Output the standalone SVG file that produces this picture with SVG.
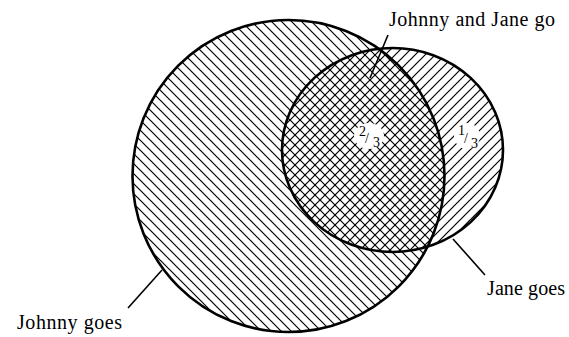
<svg xmlns="http://www.w3.org/2000/svg" width="569" height="337" viewBox="0 0 569 337">
<style>
.outline{fill:none;stroke:#000;stroke-width:2.6}
.lbl{font-family:"Liberation Serif","Times New Roman",serif;font-size:20px;fill:#000}
.frac{font-family:"Liberation Serif","Times New Roman",serif;font-size:14px;fill:#000}
.lead{stroke:#000;stroke-width:1.6;fill:none}
</style>
<defs>
<pattern id="back" patternUnits="userSpaceOnUse" width="10" height="10">
<path d="M-1,-1 L11,11 M-1,9 L1,11 M9,-1 L11,1" stroke="#000" stroke-width="1.2"/>
</pattern>
<pattern id="fwd" patternUnits="userSpaceOnUse" width="10" height="10">
<path d="M-1,11 L11,-1 M-1,1 L1,-1 M9,11 L11,9" stroke="#000" stroke-width="1.2"/>
</pattern>
</defs>
<rect width="569" height="337" fill="#fff"/>
<g id="johnny">
<circle cx="288.5" cy="176" r="156" fill="url(#back)"/>
</g>
<g id="jane">
<ellipse cx="392.5" cy="150" rx="110.5" ry="102" fill="url(#fwd)"/>
</g>
<g id="outlines">
<circle cx="288.5" cy="176" r="156" class="outline"/>
<ellipse cx="392.5" cy="150" rx="110.5" ry="102" class="outline"/>
</g>
<g id="frac-both">
<ellipse cx="369" cy="136" rx="15" ry="13" fill="#fff"/>
<text class="frac" x="359" y="136">2</text>
<text class="frac" x="365" y="143">/</text>
<text class="frac" x="373" y="147">3</text>
</g>
<g id="frac-jane">
<ellipse cx="467" cy="136" rx="13" ry="13" fill="#fff"/>
<text class="frac" x="458" y="135">1</text>
<text class="frac" x="464" y="143">/</text>
<text class="frac" x="471" y="148">3</text>
</g>
<g id="connectors">
<line class="lead" x1="388" y1="35" x2="370" y2="78"/>
<line class="lead" x1="453" y1="239" x2="485" y2="275"/>
<line class="lead" x1="162" y1="270" x2="128" y2="308"/>
</g>
<g id="label-both"><text class="lbl" x="389" y="26" textLength="166">Johnny and Jane go</text></g>
<g id="label-jane"><text class="lbl" x="487" y="295" textLength="78">Jane goes</text></g>
<g id="label-johnny"><text class="lbl" x="17" y="329" textLength="105">Johnny goes</text></g>
</svg>
